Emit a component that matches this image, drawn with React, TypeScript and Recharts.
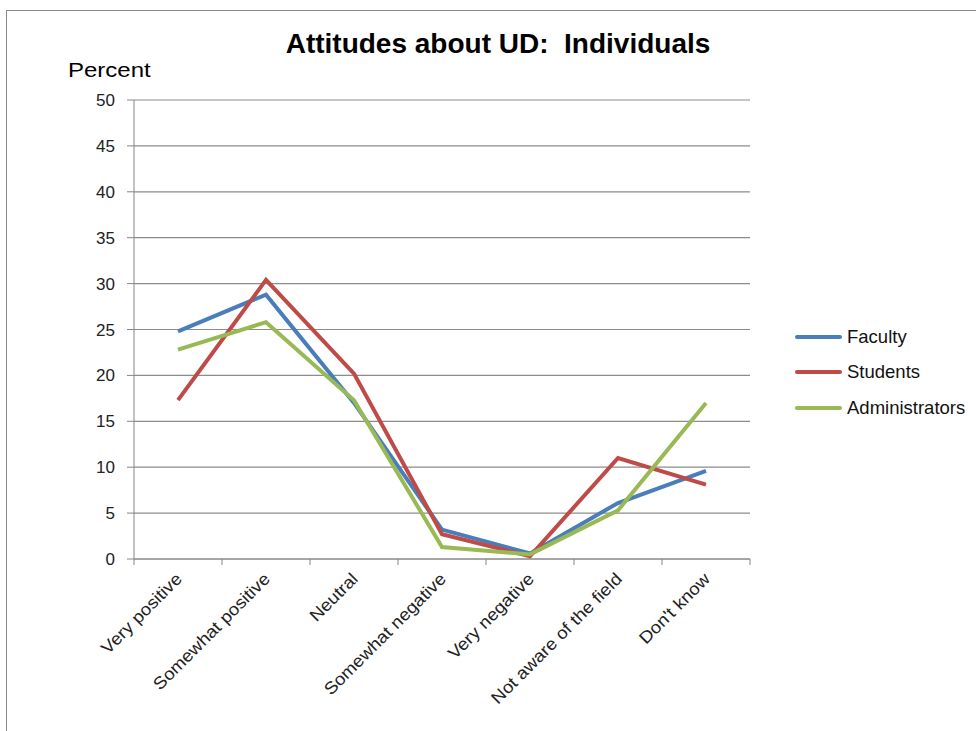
import { CartesianGrid, Line, LineChart, XAxis, YAxis } from "recharts";

const categories = [
  "Very positive",
  "Somewhat positive",
  "Neutral",
  "Somewhat negative",
  "Very negative",
  "Not aware of the field",
  "Don't know"
];
const faculty = [24.8, 28.8, 17.0, 3.2, 0.6, 6.1, 9.6];
const students = [17.3, 30.4, 20.2, 2.7, 0.3, 11.0, 8.1];
const administrators = [22.8, 25.8, 17.3, 1.3, 0.5, 5.3, 17.0];
const yTicks = [0, 5, 10, 15, 20, 25, 30, 35, 40, 45, 50];

const series = [
  { key: "faculty", name: "Faculty", color: "#4a7ebb" },
  { key: "students", name: "Students", color: "#be4b48" },
  { key: "administrators", name: "Administrators", color: "#98b954" }
];

const data = categories.map((c, i) => ({
  category: c,
  faculty: faculty[i],
  students: students[i],
  administrators: administrators[i]
}));

const W = 976;
const H = 731;
const axisW = 134;
const axisH = 172;
const margin = { top: 100, right: 226, bottom: 0, left: 0 };
const band = (W - axisW - margin.right) / categories.length;
const font = "'Liberation Sans', Arial, sans-serif";

function XTick(props: any) {
  const { x, payload, index } = props;
  const top = H - axisH;
  const ax = x + 5;
  const ay = top + 21;
  return (
    <g>
      <line x1={x - band / 2} x2={x - band / 2} y1={top} y2={top + 6} stroke="#868686" />
      {index === categories.length - 1 && (
        <line x1={x + band / 2} x2={x + band / 2} y1={top} y2={top + 6} stroke="#868686" />
      )}
      <text
        x={0}
        y={0}
        transform={`translate(${ax}, ${ay}) rotate(-45) scale(1.1, 1)`}
        textAnchor="end"
        fontSize={17}
        fill="#222"
        fontFamily={font}
      >
        {payload.value}
      </text>
    </g>
  );
}

function LegendBox() {
  return (
    <div style={{ position: "absolute", left: 795, top: 319, fontFamily: font, fontSize: 18.5, color: "#111" }}>
      {series.map((s) => (
        <div key={s.key} style={{ display: "flex", alignItems: "center", height: 35.5 }}>
          <div style={{ width: 47, height: 4, background: s.color, borderRadius: 2, marginRight: 5 }} />
          <span>{s.name}</span>
        </div>
      ))}
    </div>
  );
}

export default function App() {
  return (
    <div style={{ position: "absolute", left: 0, top: 0, width: W, height: H, overflow: "hidden", background: "#fff" }}>
      <div
        style={{
          position: "absolute",
          left: 6,
          top: 10,
          width: W,
          height: H,
          border: "1.5px solid #8a8a8a"
        }}
      />
      <div
        style={{
          position: "absolute",
          left: 0,
          width: 996,
          top: 28,
          textAlign: "center",
          fontFamily: font,
          fontWeight: "bold",
          fontSize: 28
        }}
      >
        Attitudes about UD:&nbsp; Individuals
      </div>
      <div
        style={{
          position: "absolute",
          left: 68,
          top: 59,
          fontFamily: font,
          fontSize: 20,
          transform: "scaleX(1.2)",
          transformOrigin: "left top"
        }}
      >
        Percent
      </div>
      <div style={{ position: "absolute", left: 0, top: 0 }}>
        <LineChart width={W} height={H} data={data} margin={margin}>
          <CartesianGrid vertical={false} stroke="#8c8c8c" strokeWidth={1.2} />
          <XAxis
            dataKey="category"
            interval={0}
            tickLine={false}
            axisLine={{ stroke: "#868686" }}
            tick={<XTick />}
            height={axisH}
            padding={{ left: band / 2, right: band / 2 }}
          />
          <YAxis
            domain={[0, 50]}
            ticks={yTicks}
            interval={0}
            axisLine={{ stroke: "#868686" }}
            tickLine={{ stroke: "#868686" }}
            tickSize={7}
            tickMargin={12}
            tick={{ fontSize: 17, fill: "#222", fontFamily: font }}
            width={axisW}
          />
          {series.map((s) => (
            <Line
              key={s.key}
              dataKey={s.key}
              name={s.name}
              stroke={s.color}
              strokeWidth={4}
              dot={false}
              activeDot={false}
              isAnimationActive={false}
            />
          ))}
        </LineChart>
      </div>
      <LegendBox />
    </div>
  );
}
